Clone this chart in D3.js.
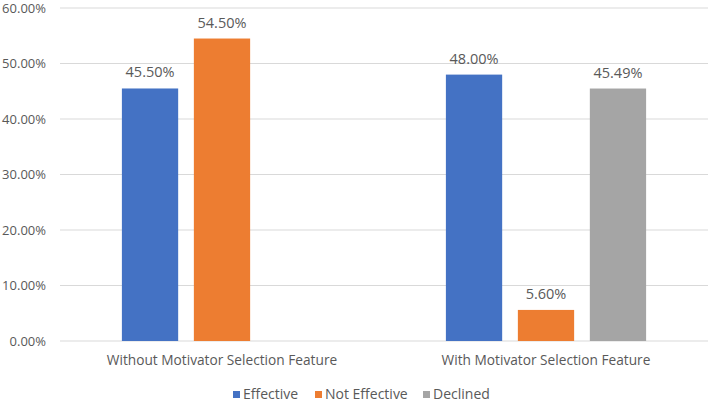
<!DOCTYPE html>
<html>
<head>
<meta charset="utf-8">
<script src="https://cdn.jsdelivr.net/npm/d3@7"></script>
<style>
  body { margin: 0; background: #fff; }
  text { font-family: "Open Sans", "Noto Sans", sans-serif; fill: #595959; }
</style>
</head>
<body>
<div id="chart"></div>
<script>
const categories = ["Without Motivator Selection Feature", "With Motivator Selection Feature"];
const seriesNames = ["Effective", "Not Effective", "Declined"];
const seriesColors = ["#4472C4", "#ED7D31", "#A5A5A5"];
// values in percent, null = no bar
const effective = [45.50, 48.00];
const notEffective = [54.50, 5.60];
const declined = [null, 45.49];
const yTicks = [0, 10, 20, 30, 40, 50, 60];

const seriesValues = [effective, notEffective, declined];

const W = 709, H = 403;
const margin = {top: 8, right: 1, bottom: 62, left: 60};
const width = W - margin.left - margin.right;
const height = H - margin.top - margin.bottom;

const svg = d3.select("#chart").append("svg")
  .attr("width", W).attr("height", H);
const g = svg.append("g")
  .attr("transform", "translate(" + margin.left + "," + margin.top + ")");

const y = d3.scaleLinear().domain([0, 60]).range([height, 0]);
const x0 = d3.scaleBand().domain(categories).range([0, width]).paddingInner(0).paddingOuter(0);
const x1 = d3.scaleBand().domain(seriesNames).range([0, x0.bandwidth()]).paddingInner(0.218).paddingOuter(0.86);

// gridlines
g.append("g")
  .selectAll("line")
  .data(yTicks)
  .enter().append("line")
    .attr("x1", 0).attr("x2", width)
    .attr("y1", d => y(d)).attr("y2", d => y(d))
    .attr("stroke", "#D9D9D9").attr("stroke-width", 1);

// y axis labels
const yAxis = g.append("g")
  .call(d3.axisLeft(y).tickValues(yTicks).tickSize(0).tickPadding(14).tickFormat(d => d.toFixed(2) + "%"));
yAxis.select(".domain").remove();
yAxis.selectAll("text").style("font-size", "13px").attr("fill", "#595959")
  .style("font-family", '"Open Sans", "Noto Sans", sans-serif');

// bars
const bars = [];
categories.forEach((c, ci) => {
  seriesNames.forEach((s, si) => {
    const v = seriesValues[si][ci];
    if (v !== null) bars.push({cat: c, series: s, color: seriesColors[si], value: v});
  });
});

g.append("g").selectAll("rect")
  .data(bars)
  .enter().append("rect")
    .attr("x", d => x0(d.cat) + x1(d.series))
    .attr("y", d => y(d.value))
    .attr("width", x1.bandwidth())
    .attr("height", d => height - y(d.value))
    .attr("fill", d => d.color);

// data labels
g.append("g").selectAll("text")
  .data(bars)
  .enter().append("text")
    .attr("x", d => x0(d.cat) + x1(d.series) + x1.bandwidth() / 2)
    .attr("y", d => y(d.value) - 11)
    .attr("text-anchor", "middle")
    .style("font-size", "14.5px")
    .text(d => d.value.toFixed(2) + "%");

// category labels
g.append("g").selectAll("text")
  .data(categories)
  .enter().append("text")
    .attr("x", d => x0(d) + x0.bandwidth() / 2)
    .attr("y", height + 24)
    .attr("text-anchor", "middle")
    .style("font-size", "13.7px")
    .text(d => d);

// legend
const legendX = [233, 315, 423];
const legend = svg.append("g");
seriesNames.forEach((s, i) => {
  legend.append("rect")
    .attr("x", legendX[i]).attr("y", 391)
    .attr("width", 7).attr("height", 7)
    .attr("fill", seriesColors[i]);
  legend.append("text")
    .attr("x", legendX[i] + 10).attr("y", 399)
    .style("font-size", "14px")
    .text(s);
});
</script>
</body>
</html>
